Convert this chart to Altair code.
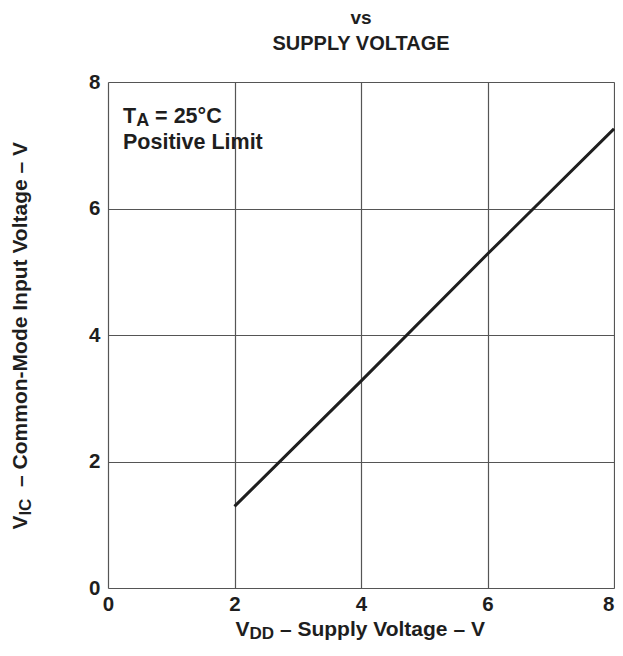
import altair as alt
import pandas as pd

# ---- data ----
vdd = [2, 4, 6, 8]
vic = [1.29, 3.27, 5.28, 7.26]
x_ticks = [0, 2, 4, 6, 8]
y_ticks = [0, 2, 4, 6, 8]

title_lines = ["vs", "SUPPLY VOLTAGE"]
x_title = [("V", 0), ("DD", 1), (" \u2013 Supply Voltage \u2013 V", 0)]
y_title = [("V", 0), ("IC", 1), ("  \u2013 Common-Mode Input Voltage \u2013 V", 0)]
note1 = [("T", 0), ("A", 1), (" = 25\u00b0C", 0)]
note2 = "Positive Limit"

FONT = "Liberation Sans"
INK = "#1e1e1e"
W, H = 506, 506

# Arial/Helvetica Bold advance widths (per 1000 em)
AW = {' ': 278, '\u2013': 556, '=': 584, '\u00b0': 400, '-': 333,
      'A': 722, 'C': 722, 'D': 722, 'E': 667, 'G': 778, 'I': 278, 'L': 611,
      'M': 833, 'O': 778, 'P': 667, 'S': 667, 'T': 611, 'U': 722, 'V': 667,
      'Y': 667, 'a': 556, 'c': 556, 'd': 611, 'e': 556, 'g': 611, 'i': 278,
      'l': 278, 'm': 889, 'n': 611, 'o': 611, 'p': 611, 's': 556, 't': 333,
      'u': 611, 'v': 556, 'y': 556}


def tw(s, size):
    return sum(AW.get(c, 556) for c in s) * size / 1000.0


dummy = pd.DataFrame({"a": [0]})


def txt(text, px, py, size, angle=0, align="left"):
    return alt.Chart(dummy).mark_text(
        text=text, font=FONT, fontWeight="bold", fontSize=size, color=INK,
        align=align, baseline="alphabetic", angle=angle,
    ).encode(x=alt.value(px), y=alt.value(py))


def split_lead(s):
    core = s.lstrip(" ")
    return s[: len(s) - len(core)], core


def pieces_h(parts, start_x, base_y, size, sub_size, sub_dy):
    out, cx = [], start_x
    for s, sub in parts:
        fs = sub_size if sub else size
        lead, core = split_lead(s)
        cx += tw(lead, fs)
        out.append(txt(core, cx, base_y + (sub_dy if sub else 0), fs))
        cx += tw(core, fs)
    return out


def pieces_v(parts, base_x, start_y, size, sub_size, sub_dx):
    out, cy = [], start_y
    for s, sub in parts:
        fs = sub_size if sub else size
        lead, core = split_lead(s)
        cy -= tw(lead, fs)
        out.append(txt(core, base_x + (sub_dx if sub else 0), cy, fs, angle=270))
        cy -= tw(core, fs)
    return out


df = pd.DataFrame({"vdd": vdd, "vic": vic})

common_axis = dict(title=None, grid=True, ticks=False, domain=False,
                   labelFontSize=20.5, labelFont=FONT, labelFontWeight="bold",
                   labelColor=INK, gridColor="#555", gridWidth=1.2,
                   labelFlush=False)

line = alt.Chart(df).mark_line(color=INK, strokeWidth=3, strokeCap="butt").encode(
    x=alt.X("vdd:Q", scale=alt.Scale(domain=[0, 8], nice=False),
            axis=alt.Axis(values=x_ticks, labelPadding=6,
                          labelAlign=alt.condition("datum.value == 8",
                                                   alt.value("right"),
                                                   alt.value("center")),
                          **common_axis)),
    y=alt.Y("vic:Q", scale=alt.Scale(domain=[0, 8], nice=False),
            axis=alt.Axis(values=y_ticks, labelPadding=8, **common_axis)),
)

layers = [line]

# chart title (two lines)
layers.append(txt(title_lines[0], W / 2, -58, 19, align="center"))
layers.append(txt(title_lines[1], W / 2, -32, 20, align="center"))

# x axis title
MS, SS = 21, 17
xw = sum(tw(s, SS if sub else MS) for s, sub in x_title)
layers += pieces_h(x_title, W / 2 - xw / 2, H + 48, MS, SS, 2.5)

# y axis title (centred on the plot)
YS, YSS = 21, 17
yw = sum(tw(s, YSS if sub else YS) for s, sub in y_title)
layers += pieces_v(y_title, -81, H / 2 + yw / 2, YS, YSS, 4)

# annotation
layers += pieces_h(note1, 15, 41, 21.5, 18, 3)
layers.append(txt(note2, 15, 67, 21.5))

chart = alt.layer(*layers).properties(
    width=W, height=H,
    padding={"left": 100, "top": 74, "right": 1, "bottom": 54},
    autosize=alt.AutoSizeParams(type="none"),
).configure_view(
    stroke=INK, strokeWidth=2.2
).configure(background="white")

chart.save("out.html", embed_options={"renderer": "svg", "actions": False})
